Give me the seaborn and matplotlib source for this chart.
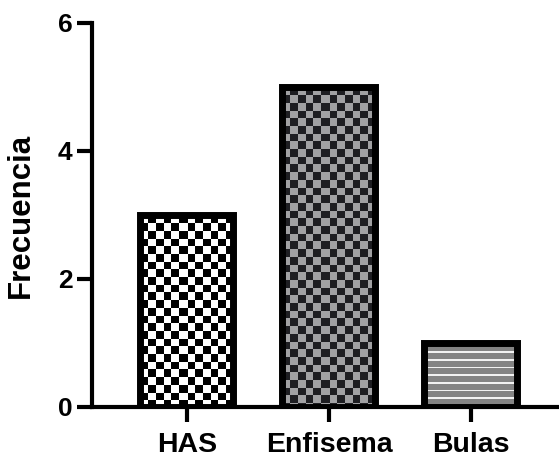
import numpy as np
import pandas as pd
import matplotlib
matplotlib.use("Agg")
import matplotlib.pyplot as plt
import seaborn as sns

categories = ["HAS", "Enfisema", "Bulas"]
values = [3, 5, 1]
yticks = [0, 2, 4, 6]
ylabel = "Frecuencia"

sns.set_theme(style="ticks")
plt.rcParams['font.family'] = ['Liberation Sans', 'DejaVu Sans']
plt.rcParams['font.weight'] = 'bold'

fig = plt.figure(figsize=(5.59, 4.62), dpi=100)
ax = fig.add_axes([92/559, 55/462, 1 - 92/559, (407 - 23)/462])
df = pd.DataFrame({"cat": categories, "val": values})
sns.barplot(data=df, x="cat", y="val", ax=ax, width=0.655, color="white",
            edgecolor="black", linewidth=5, saturation=1)
ax.set_xlim(-0.669, 2.62)
ax.set_ylim(0, 6)
ax.set_yticks(yticks)
ax.set_xlabel("")
ax.set_ylabel(ylabel, fontsize=22.5, fontweight='bold', labelpad=16, color="black")
for s in ["top", "right"]:
    ax.spines[s].set_visible(False)
for s in ["left", "bottom"]:
    ax.spines[s].set_linewidth(3)
    ax.spines[s].set_color("black")
ax.tick_params(axis="y", length=11, width=3, labelsize=19, pad=3, colors="black")
ax.tick_params(axis="x", length=11, width=3, labelsize=20.5, pad=7, colors="black")

fig.canvas.draw()

def checker(W, H, c, a, b):
    jj = np.floor(np.arange(W) / c).astype(int)
    ii = np.floor(np.arange(H) / c).astype(int)
    m = (ii[:, None] + jj[None, :]) % 2
    img = np.where(m[..., None] == 0, np.array(a, float), np.array(b, float))
    return img

def stripes(W, H, c, base, line):
    ii = np.arange(H) % c
    m = (ii < 1.6)[:, None] & np.ones(W, bool)[None, :]
    img = np.where(m[..., None], np.array(line, float), np.array(base, float))
    return img

textures = [
    lambda W, H: checker(W, H, 7.7, (1.0, 1.0, 1.0), (0.0, 0.0, 0.0)),
    lambda W, H: checker(W, H, 7.7, (0.635, 0.635, 0.64), (0.12, 0.12, 0.135)),
    lambda W, H: stripes(W, H, 7.7, (0.52, 0.52, 0.52), (0.95, 0.95, 0.95)),
]

for patch, tex in zip(ax.patches, textures):
    bb = patch.get_bbox()
    p0 = ax.transData.transform((bb.x0, bb.y0))
    p1 = ax.transData.transform((bb.x1, bb.y1))
    W = int(round(abs(p1[0] - p0[0])))
    H = int(round(abs(p1[1] - p0[1])))
    img = tex(W, H)
    im = ax.imshow(img, extent=(bb.x0, bb.x1, bb.y0, bb.y1), origin="upper",
                   interpolation="nearest", aspect="auto", zorder=2)
    im.set_clip_path(patch)
    patch.set_facecolor("none")
    patch.set_zorder(3)

ax.set_xlim(-0.669, 2.62)
ax.set_ylim(0, 6)
fig.savefig("out.png", dpi=100)
